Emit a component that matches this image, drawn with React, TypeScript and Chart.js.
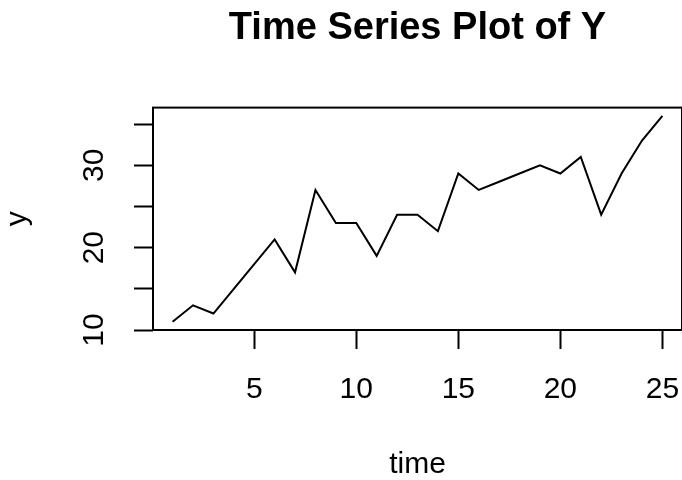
import React, { useEffect, useRef } from "react";
import { Chart, registerables } from "chart.js";

Chart.register(...registerables);

const timeValues = [1, 2, 3, 4, 5, 6, 7, 8, 9, 10, 11, 12, 13, 14, 15, 16, 17, 18, 19, 20, 21, 22, 23, 24, 25];
const yValues = [11, 13, 12, 15, 18, 21, 17, 27, 23, 23, 19, 24, 24, 22, 29, 27, 28, 29, 30, 29, 31, 24, 29, 33, 36];
const xTickValues = [5, 10, 15, 20, 25];
const yTickValues = [10, 15, 20, 25, 30, 35];
const yLabelValues = [10, 20, 30];

const FONT = "'Liberation Sans', Arial, Helvetica, sans-serif";

const boxPlugin = {
  id: "rbox",
  afterDraw(chart: any) {
    const { ctx, chartArea } = chart;
    ctx.save();
    ctx.strokeStyle = "#000";
    ctx.lineWidth = 2;
    ctx.strokeRect(chartArea.left, chartArea.top, chartArea.right - chartArea.left, chartArea.bottom - chartArea.top);
    // rotated y tick labels (R style, las = 0)
    const ys = chart.scales.y;
    ctx.fillStyle = "#000";
    ctx.font = `30px ${FONT}`;
    ctx.textAlign = "center";
    ctx.textBaseline = "alphabetic";
    for (const v of yLabelValues) {
      const py = ys.getPixelForValue(v);
      ctx.save();
      ctx.translate(103, py);
      ctx.rotate(-Math.PI / 2);
      ctx.fillText(String(v), 0, 0);
      ctx.restore();
    }
    ctx.restore();
  },
};

export default function App() {
  const ref = useRef<HTMLCanvasElement | null>(null);
  useEffect(() => {
    if (!ref.current) return;
    const chart = new Chart(ref.current, {
      type: "line",
      data: {
        datasets: [
          {
            data: timeValues.map((t, i) => ({ x: t, y: yValues[i] })),
            borderColor: "#000",
            borderWidth: 2,
            pointRadius: 0,
            tension: 0,
            fill: false,
          },
        ],
      },
      options: {
        animation: false,
        responsive: false,
        layout: { padding: { left: 0, right: -1, top: 0, bottom: 0 } },
        plugins: {
          legend: { display: false },
          tooltip: { enabled: false },
          title: {
            display: true,
            text: "Time Series Plot of Y",
            color: "#000",
            fullSize: false,
            font: { family: FONT, size: 38, weight: "bold", lineHeight: 1.2 },
            padding: { top: 6, bottom: 56 },
          },
        },
        scales: {
          x: {
            type: "linear",
            min: 0.04,
            max: 25.96,
            afterBuildTicks: (scale: any) => {
              scale.ticks = xTickValues.map((v) => ({ value: v }));
            },
            afterFit: (scale: any) => {
              scale.height = 150;
              scale.paddingLeft = 0;
              scale.paddingRight = 0;
            },
            border: { display: false },
            grid: {
              drawOnChartArea: false,
              drawTicks: true,
              tickLength: 19,
              tickWidth: 2,
              tickColor: "#000",
            },
            ticks: {
              color: "#000",
              font: { family: FONT, size: 30, lineHeight: 1 },
              padding: 26,
              maxRotation: 0,
              autoSkip: false,
            },
            title: {
              display: true,
              text: "time",
              color: "#000",
              font: { family: FONT, size: 30, lineHeight: 1 },
              padding: { top: 0, bottom: 0 },
            },
          },
          y: {
            type: "linear",
            min: 10,
            max: 37,
            afterBuildTicks: (scale: any) => {
              scale.ticks = yTickValues.map((v) => ({ value: v }));
            },
            afterFit: (scale: any) => {
              scale.width = 153;
              scale.paddingTop = 0;
              scale.paddingBottom = 0;
            },
            border: { display: false },
            grid: {
              drawOnChartArea: false,
              drawTicks: true,
              tickLength: 19,
              tickWidth: 2,
              tickColor: "#000",
            },
            ticks: { display: false },
            title: {
              display: true,
              text: "y",
              color: "#000",
              font: { family: FONT, size: 30, lineHeight: 1 },
              padding: { top: 3, bottom: 0 },
            },
          },
        },
      },
      plugins: [boxPlugin],
    });
    return () => chart.destroy();
  }, []);
  return (
    <div style={{ position: "absolute", left: 0, top: 0, width: 682, height: 480, background: "#fff" }}>
      <canvas ref={ref} width={682} height={480} />
    </div>
  );
}
